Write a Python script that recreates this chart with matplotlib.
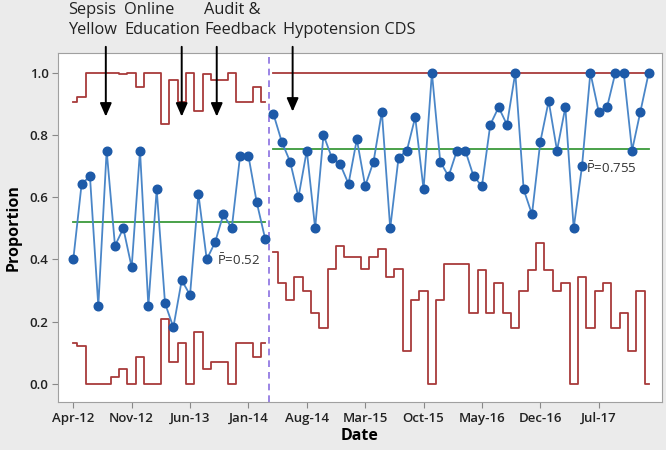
import numpy as np
import pandas as pd
import matplotlib
matplotlib.use("Agg")
import matplotlib.pyplot as plt

plt.rcParams["font.family"] = ["Open Sans", "DejaVu Sans"]
plt.rcParams["mathtext.fontset"] = "custom"
plt.rcParams["mathtext.rm"] = "Open Sans"

# ── Data ──────────────────────────────────────────────────────────────────
dates = pd.date_range("2012-04-01", periods=70, freq="MS")

prop_1 = [0.400, 0.643, 0.667, 0.250, 0.750, 0.444, 0.500, 0.375, 0.750, 0.250,
          0.625, 0.259, 0.182, 0.333, 0.286, 0.611, 0.400, 0.455, 0.545, 0.500,
          0.733, 0.733, 0.583, 0.467]
ucl_1 = [0.907, 0.923, 1.0, 1.0, 1.0, 1.0, 0.995, 1.0, 0.955, 1.0, 1.0, 0.835,
         0.977, 0.907, 1.0, 0.878, 0.995, 0.977, 0.977, 1.0, 0.907, 0.907,
         0.955, 0.907]
lcl_1 = [0.133, 0.122, 0.0, 0.0, 0.0, 0.021, 0.047, 0.0, 0.088, 0.0, 0.0, 0.208,
         0.069, 0.133, 0.0, 0.168, 0.047, 0.069, 0.069, 0.0, 0.133, 0.133,
         0.088, 0.133]

prop_2 = [0.867, 0.778, 0.714, 0.600, 0.750, 0.500, 0.800, 0.727, 0.706, 0.643,
          0.786, 0.636, 0.714, 0.875, 0.500, 0.727, 0.750, 0.857, 0.625, 1.0,
          0.714, 0.667, 0.750, 0.750, 0.667, 0.636, 0.833, 0.889, 0.833, 1.0,
          0.625, 0.545, 0.778, 0.909, 0.750, 0.889, 0.500, 0.700, 1.0, 0.875,
          0.889, 1.0, 1.0, 0.750, 0.875, 1.0]
ucl_2 = [1.0] * 46
lcl_2 = [0.425, 0.323, 0.270, 0.345, 0.300, 0.229, 0.179, 0.368, 0.443, 0.409,
         0.409, 0.368, 0.409, 0.433, 0.345, 0.368, 0.107, 0.270, 0.300, 0.0,
         0.270, 0.384, 0.384, 0.384, 0.229, 0.366, 0.229, 0.323, 0.229, 0.179,
         0.300, 0.366, 0.454, 0.366, 0.300, 0.323, 0.0, 0.345, 0.179, 0.300,
         0.323, 0.179, 0.229, 0.107, 0.300, 0.0]

centre = [0.52, 0.755]

events = ["Sepsis\nYellow", "Online\nEducation", "Audit &\nFeedback", "Hypotension CDS"]
event_x = [3.9, 13.0, 17.2, 26.3]

# ── Plot ──────────────────────────────────────────────────────────────────
RED = "#a83a3a"
GREEN = "#3a9a3a"
BLUE_LINE = "#4a86c8"
BLUE_DOT = "#1d5aa8"

fig = plt.figure(figsize=(6.66, 4.5), dpi=100, facecolor="#ebebeb")
ax = fig.add_axes([0.0875, 0.106, 0.906, 0.776])
ax.set_facecolor("white")

phases = [(prop_1, ucl_1, lcl_1), (prop_2, ucl_2, lcl_2)]
start = 0
for k, (p, u, l) in enumerate(phases):
    x = np.arange(start, start + len(p))
    ax.step(x, u, where="mid", color=RED, lw=1.3, zorder=2)
    ax.step(x, l, where="mid", color=RED, lw=1.3, zorder=2)
    ax.plot([x[0], x[-1]], [centre[k]] * 2, color=GREEN, lw=1.3, zorder=2)
    ax.plot(x, p, color=BLUE_LINE, lw=1.3, zorder=3)
    ax.plot(x, p, "o", color=BLUE_DOT, ms=6.2, zorder=4)
    start += len(p)

ax.axvline(len(prop_1) - 0.5, color="#8a6fe0", lw=1.2, ls=(0, (4, 3)), zorder=1)

ax.text(17.2, 0.396, r"$\bar{\mathrm{P}}$=0.52", fontsize=9.5, color="#333333",
        va="center", ha="left")
ax.text(61.5, 0.694, r"$\bar{\mathrm{P}}$=0.755", fontsize=9.5, color="#333333",
        va="center", ha="left")

for xe in event_x:
    tip_y = 0.875 if xe > 20 else 0.859
    ax.annotate("", xy=(xe, tip_y), xycoords="data",
                xytext=(xe, 1.018), textcoords=("data", "axes fraction"),
                arrowprops=dict(arrowstyle="-|>,head_length=0.8,head_width=0.35",
                                color="black", lw=1.4, shrinkA=0, shrinkB=0),
                annotation_clip=False)

text_pos = [(68 / 666, 1 - 20 / 450), (124 / 666, 1 - 20 / 450),
            (204 / 666, 1 - 20 / 450), (283 / 666, 1 - 30 / 450)]
for txt, (fx, fy) in zip(events, text_pos):
    fig.text(fx, fy, txt, fontsize=11.8, ha="left", va="center",
             linespacing=1.32, color="#222222")

ax.set_xlim(-1.8, 70.55)
ax.set_ylim(-0.059, 1.063)
yt = [0.0, 0.2, 0.4, 0.6, 0.8, 1.0]
ax.set_yticks(yt)
ax.set_yticklabels([f"{v:.1f}" for v in yt])
tick_idx = np.arange(0, 70, 7)
ax.set_xticks(tick_idx)
ax.set_xticklabels([dates[i].strftime("%b-%y") for i in tick_idx])
ax.tick_params(axis="both", length=4, color="#888888", labelsize=9.5,
               labelcolor="#222222", pad=3)
for lab in ax.get_xticklabels() + ax.get_yticklabels():
    lab.set_fontweight("semibold")
for s in ax.spines.values():
    s.set_color("#a0a0a0")

ax.set_xlabel("Date", fontsize=11.5, fontweight="bold", labelpad=2)
ax.set_ylabel("Proportion", fontsize=11.5, fontweight="bold", labelpad=6)

fig.savefig("out.png", dpi=100, facecolor=fig.get_facecolor())
